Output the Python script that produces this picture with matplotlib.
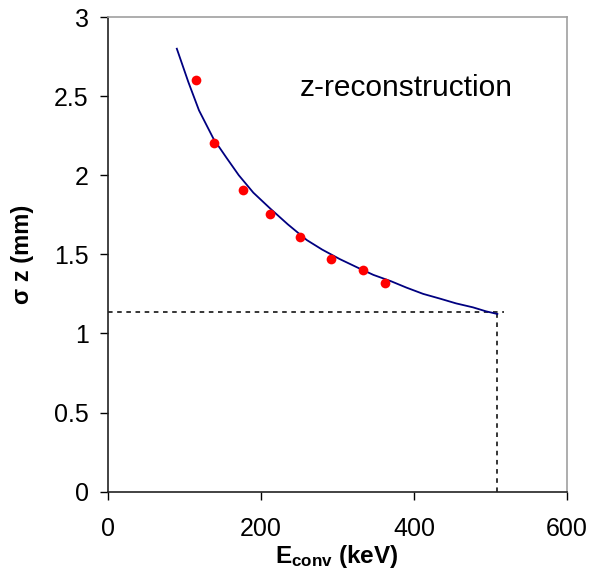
#! /usr/bin/env python3
import numpy as np
import matplotlib
matplotlib.use('Agg')
matplotlib.rcParams['font.family'] = 'sans-serif'
matplotlib.rcParams['font.sans-serif'] = ['Liberation Sans', 'DejaVu Sans']
matplotlib.rcParams['mathtext.fontset'] = 'custom'
matplotlib.rcParams['mathtext.rm'] = 'Liberation Sans'
matplotlib.rcParams['mathtext.bf'] = 'Liberation Sans:bold'
import matplotlib.pyplot as plt

# measured points (keV, mm)
e_meas = [115, 138, 176, 212, 251, 291, 333, 362]
sigma_meas = [2.60, 2.206, 1.905, 1.753, 1.61, 1.471, 1.401, 1.321]

# fitted curve
e_fit = [90, 105, 119, 138, 155, 171, 190, 212, 235, 260, 280, 303,
         329, 347, 370, 390, 412, 434, 455, 477, 494, 509]
sigma_fit = [2.80, 2.59, 2.41, 2.23, 2.11, 2.00, 1.89, 1.79, 1.69, 1.59,
             1.53, 1.47, 1.41, 1.37, 1.33, 1.29, 1.25, 1.22, 1.19, 1.165,
             1.14, 1.123]

# 511 keV marker lines
e_mark = 509
sigma_mark = 1.136
e_hline_end = 518

fig = plt.figure(figsize=(5.9, 5.69), dpi=100)
ax = fig.add_axes([0.183, 0.136, 0.778, 0.834])

ax.plot(e_fit, sigma_fit, color='#000080', lw=1.3, zorder=3)
ax.plot(e_meas, sigma_meas, 'o', color='#ff0000', ms=7, mec='none', zorder=4)
ax.plot([0, e_hline_end], [sigma_mark, sigma_mark], color='black', lw=1.1,
        dashes=(3, 3), zorder=2)
ax.plot([e_mark, e_mark], [0, sigma_mark], color='black', lw=1.1,
        dashes=(3, 3), zorder=2)

ax.text(251, 2.55, 'z-reconstruction', fontsize=21.5, va='center', ha='left')

ax.set_xlim(0, 600)
ax.set_ylim(0, 3)
ax.set_xticks([0, 200, 400, 600])
ax.set_yticks([0, 0.5, 1, 1.5, 2, 2.5, 3])
ax.set_yticklabels(['0', '0.5', '1', '1.5', '2', '2.5', '3'])
ax.tick_params(axis='both', direction='out', length=6, width=1,
               labelsize=18, colors='black')
ax.tick_params(axis='y', pad=8)
ax.tick_params(axis='x', pad=12)

for side in ['left', 'bottom']:
    ax.spines[side].set_color('#222222')
    ax.spines[side].set_linewidth(1.2)
for side in ['top', 'right']:
    ax.spines[side].set_color('#a0a0a0')
    ax.spines[side].set_linewidth(1.2)

# axis titles placed at fixed spots so the subscript stays inside the figure
fig.text(0.571, 0.0105, r'$\mathbf{E_{conv}}$ (keV)', fontsize=17.5,
         fontweight='bold', ha='center', va='baseline')
ax.set_ylabel('σ z (mm)', fontsize=17, fontweight='bold', labelpad=14)

plt.savefig('out.png', dpi=100)
